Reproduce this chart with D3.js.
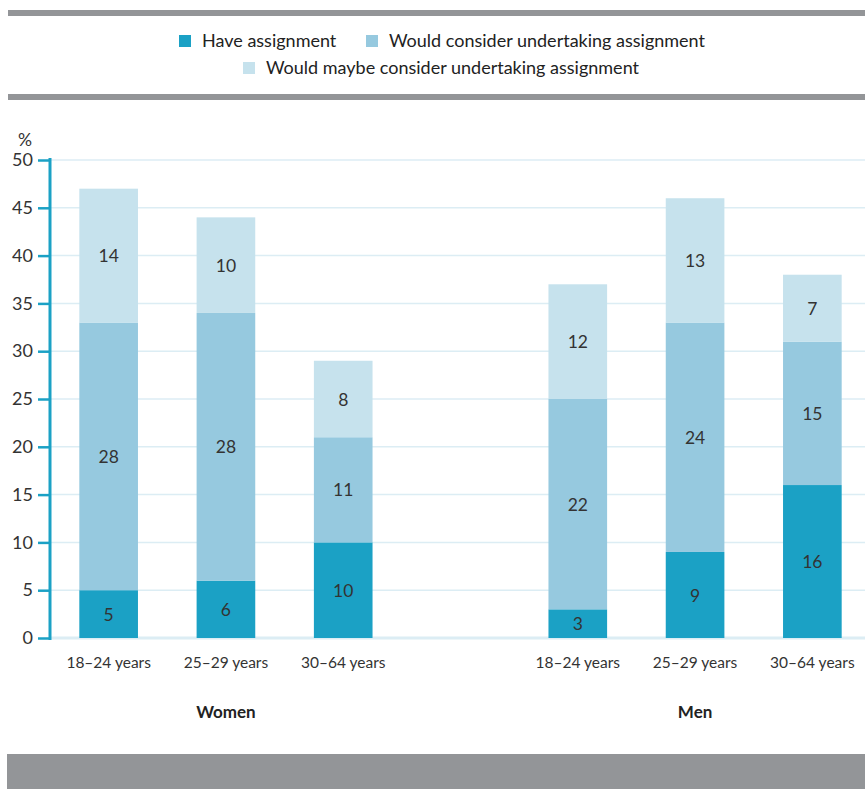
<!DOCTYPE html>
<html>
<head>
<meta charset="utf-8">
<script src="https://cdn.jsdelivr.net/npm/d3@7"></script>
<style>
  html, body { margin: 0; padding: 0; background: #fff; }
  svg { display: block; font-family: Lato, "Open Sans", sans-serif; }
</style>
</head>
<body>
<svg id="chart" width="865" height="789"></svg>
<script>
// Age groups per sex; an empty slot separates the two sexes.
const groups = ["Women", "Men"];
const ages = ["18–24 years", "25–29 years", "30–64 years"];
const haveAssignment   = [5, 6, 10, 3, 9, 16];
const wouldConsider    = [28, 28, 11, 22, 24, 15];
const maybeConsider    = [14, 10, 8, 12, 13, 7];
const seriesNames = ["Have assignment", "Would consider undertaking assignment", "Would maybe consider undertaking assignment"];
const seriesColors = ["#1ba1c5", "#96c9df", "#c6e2ed"];
const yTicks = [0, 5, 10, 15, 20, 25, 30, 35, 40, 45, 50];

const svg = d3.select("#chart");
const W = 865;

// Slot keys: three women bars, a gap, three men bars
const slots = ["W0", "W1", "W2", "gap", "M0", "M1", "M2"];
const rows = [];
groups.forEach((g, gi) => ages.forEach((a, ai) => {
  const i = gi * 3 + ai;
  rows.push({ key: g[0] + ai, group: g, age: a,
    have: haveAssignment[i], consider: wouldConsider[i], maybe: maybeConsider[i] });
}));

const x = d3.scaleBand().domain(slots).range([50, 871]).paddingInner(0.5).paddingOuter(0.25);
const y = d3.scaleLinear().domain([0, 50]).range([638, 160]);

// Decorative grey rules
svg.append("rect").attr("x", 8).attr("y", 10).attr("width", W - 8).attr("height", 6).attr("fill", "#939598");
svg.append("rect").attr("x", 8).attr("y", 94).attr("width", W - 8).attr("height", 6).attr("fill", "#939598");
svg.append("rect").attr("x", 7).attr("y", 754).attr("width", W - 7).attr("height", 35).attr("fill", "#939598");

// Legend
const legendItems = [
  { name: seriesNames[0], color: seriesColors[0], x: 179, y: 41 },
  { name: seriesNames[1], color: seriesColors[1], x: 366, y: 41 },
  { name: seriesNames[2], color: seriesColors[2], x: 243, y: 68 }
];
const lg = svg.append("g").selectAll("g").data(legendItems).join("g")
  .attr("transform", d => `translate(${d.x},${d.y})`);
lg.append("rect").attr("x", 0).attr("y", -6).attr("width", 12).attr("height", 12).attr("fill", d => d.color);
lg.append("text").attr("x", 23).attr("y", 0).attr("dy", "0.35em")
  .attr("font-size", 18).attr("fill", "#222").text(d => d.name);

// Gridlines
svg.append("g").selectAll("line").data(yTicks).join("line")
  .attr("x1", 50).attr("x2", W).attr("y1", d => y(d)).attr("y2", d => y(d))
  .attr("stroke", "#dcedf4").attr("stroke-width", d => d === 0 ? 3 : 1.5);

// Stacked bars
const stack = d3.stack().keys(["have", "consider", "maybe"]);
const stacked = stack(rows);
const layers = svg.append("g").selectAll("g").data(stacked).join("g")
  .attr("fill", (d, i) => seriesColors[i]);
layers.selectAll("rect").data(d => d).join("rect")
  .attr("x", d => x(d.data.key))
  .attr("width", x.bandwidth())
  .attr("y", d => y(d[1]))
  .attr("height", d => y(d[0]) - y(d[1]));

// Segment value labels
layers.selectAll("text").data((d, i) => d.map(s => ({ s, key: stacked[i].key }))).join("text")
  .attr("x", d => x(d.s.data.key) + x.bandwidth() / 2)
  .attr("y", d => (y(d.s[0]) + y(d.s[1])) / 2)
  .attr("dy", "0.38em")
  .attr("text-anchor", "middle")
  .attr("font-size", 17.5).attr("fill", "#333")
  .text(d => d.s.data[d.key]);

// Y axis
const yAxis = d3.axisLeft(y).tickValues(yTicks).tickSize(12).tickPadding(5);
const ya = svg.append("g").attr("transform", "translate(50,0)").call(yAxis);
ya.select(".domain").attr("stroke", "#1ba1c5").attr("stroke-width", 3).attr("d", `M0,${y(50) - 2}V${y(0) + 2}`);
ya.selectAll(".tick line").attr("stroke", "#1ba1c5").attr("stroke-width", 2.5);
ya.selectAll(".tick text").attr("font-size", 18).attr("fill", "#333").attr("font-family", "Lato, sans-serif");
svg.append("text").attr("x", 25).attr("y", 140).attr("dy", "0.35em").attr("text-anchor", "middle")
  .attr("font-size", 17.5).attr("fill", "#333").text("%");

// Category axis labels
svg.append("g").selectAll("text").data(rows).join("text")
  .attr("x", d => x(d.key) + x.bandwidth() / 2).attr("y", 663).attr("dy", "0.35em")
  .attr("text-anchor", "middle").attr("font-size", 15.5).attr("fill", "#333")
  .text(d => d.age);

// Group labels
svg.append("g").selectAll("text").data(groups).join("text")
  .attr("x", g => x(g[0] + 1) + x.bandwidth() / 2).attr("y", 712).attr("dy", "0.35em")
  .attr("text-anchor", "middle").attr("font-size", 17).attr("font-weight", "bold").attr("fill", "#222")
  .text(g => g);
</script>
</body>
</html>
